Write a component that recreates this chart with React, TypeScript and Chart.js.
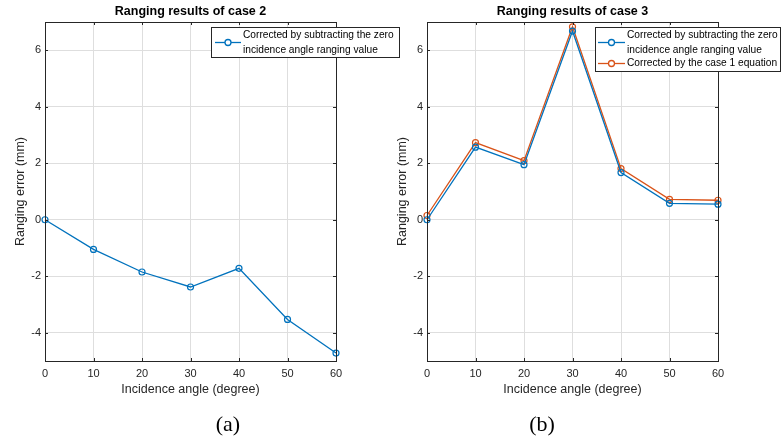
import React, { useEffect, useRef } from "react";
import { Chart, registerables } from "chart.js";

Chart.register(...registerables);

const angles = [0, 10, 20, 30, 40, 50, 60];
const case2Subtract = [0, -1.05, -1.85, -2.38, -1.72, -3.53, -4.72];
const case3Subtract = [0, 2.57, 1.95, 6.68, 1.67, 0.58, 0.55];
const case3Equation = [0.15, 2.73, 2.09, 6.83, 1.81, 0.72, 0.69];
const xTicks = [0, 10, 20, 30, 40, 50, 60];
const yTicks = [-4, -2, 0, 2, 4, 6];
const titles = ["Ranging results of case 2", "Ranging results of case 3"];
const xLabel = "Incidence angle (degree)";
const yLabel = "Ranging error (mm)";
const legendSubtract = ["Corrected by subtracting the zero", "incidence angle ranging value"];
const legendEquation = ["Corrected by the case 1 equation"];
const captions = ["(a)", "(b)"];

const BLUE = "#0072BD";
const ORANGE = "#D95319";
const AXIS = "#262626";
const SANS = "'Liberation Sans', Arial, sans-serif";

type LegendEntry = { color: string; lines: string[]; lineYs: number[]; sampleY: number };
type LegendSpec = { x: number; y: number; w: number; h: number; sampleX0: number; sampleX1: number; textX: number; entries: LegendEntry[] };

function makePlugin(title: string, legend: LegendSpec) {
  return {
    id: "matlabDeco",
    afterDraw(chart: any) {
      const ctx = chart.ctx as CanvasRenderingContext2D;
      const a = chart.chartArea;
      const xs = chart.scales.x;
      const ys = chart.scales.y;
      ctx.save();
      ctx.strokeStyle = AXIS;
      ctx.lineWidth = 1;
      ctx.strokeRect(Math.round(a.left) + 0.5, Math.round(a.top) + 0.5, Math.round(a.right - a.left), Math.round(a.bottom - a.top));
      const tl = 3;
      ctx.beginPath();
      xTicks.forEach((v) => {
        const px = Math.round(xs.getPixelForValue(v)) + 0.5;
        ctx.moveTo(px, a.bottom);
        ctx.lineTo(px, a.bottom - tl);
        ctx.moveTo(px, a.top);
        ctx.lineTo(px, a.top + tl);
      });
      yTicks.forEach((v) => {
        const py = Math.round(ys.getPixelForValue(v)) + 0.5;
        ctx.moveTo(a.left, py);
        ctx.lineTo(a.left + tl, py);
        ctx.moveTo(a.right, py);
        ctx.lineTo(a.right - tl, py);
      });
      ctx.stroke();
      ctx.fillStyle = "#000";
      ctx.font = `bold 12.5px ${SANS}`;
      ctx.textAlign = "center";
      ctx.textBaseline = "middle";
      ctx.fillText(title, (a.left + a.right) / 2, 12);
      ctx.fillStyle = AXIS;
      ctx.font = `12.5px ${SANS}`;
      ctx.fillText(xLabel, (a.left + a.right) / 2, 390);
      ctx.save();
      ctx.translate(a.left - 24, (a.top + a.bottom) / 2);
      ctx.rotate(-Math.PI / 2);
      ctx.fillText(yLabel, 0, 0);
      ctx.restore();
      ctx.fillStyle = "#fff";
      ctx.fillRect(legend.x, legend.y, legend.w, legend.h);
      ctx.strokeStyle = AXIS;
      ctx.strokeRect(legend.x + 0.5, legend.y + 0.5, legend.w, legend.h);
      ctx.font = `10.2px ${SANS}`;
      ctx.textAlign = "left";
      legend.entries.forEach((e) => {
        ctx.strokeStyle = e.color;
        ctx.lineWidth = 1.3;
        ctx.beginPath();
        ctx.moveTo(legend.sampleX0, e.sampleY);
        ctx.lineTo(legend.sampleX1, e.sampleY);
        ctx.stroke();
        ctx.beginPath();
        ctx.arc((legend.sampleX0 + legend.sampleX1) / 2, e.sampleY, 3, 0, Math.PI * 2);
        ctx.fillStyle = "#fff";
        ctx.fill();
        ctx.stroke();
        ctx.fillStyle = "#000";
        e.lines.forEach((t, i) => ctx.fillText(t, legend.textX, e.lineYs[i]));
      });
      ctx.restore();
    },
  };
}

function dataset(label: string, values: number[], color: string) {
  return {
    label,
    data: angles.map((x, i) => ({ x, y: values[i] })),
    borderColor: color,
    backgroundColor: color,
    borderWidth: 1.3,
    pointRadius: 3,
    pointBorderWidth: 1.2,
    pointBackgroundColor: "rgba(255,255,255,0)",
    pointBorderColor: color,
    tension: 0,
    clip: false,
  };
}

function makeConfig(datasets: any[], padLeft: number, padRight: number, plugin: any) {
  return {
    type: "line" as const,
    data: { datasets },
    plugins: [plugin],
    options: {
      animation: false,
      responsive: false,
      devicePixelRatio: 1,
      layout: { padding: { left: padLeft, right: padRight, top: 22, bottom: 0 } },
      plugins: { legend: { display: false }, title: { display: false }, tooltip: { enabled: false } },
      scales: {
        x: {
          type: "linear",
          min: 0,
          max: 60,
          afterBuildTicks: (s: any) => { s.ticks = xTicks.map((v) => ({ value: v })); },
          afterFit: (s: any) => { s.height = 81; },
          grid: { color: "#dedede", drawTicks: false, lineWidth: 1 },
          border: { display: false },
          ticks: { color: AXIS, font: { family: SANS, size: 11 }, padding: 6, maxRotation: 0 },
        },
        y: {
          type: "linear",
          min: -5,
          max: 7,
          afterBuildTicks: (s: any) => { s.ticks = yTicks.map((v) => ({ value: v })); },
          afterFit: (s: any) => { s.width = 45; },
          grid: { color: "#dedede", drawTicks: false, lineWidth: 1 },
          border: { display: false },
          ticks: { color: AXIS, font: { family: SANS, size: 11 }, padding: 4 },
        },
      },
    },
  };
}

export default function App() {
  const refA = useRef<HTMLCanvasElement>(null);
  const refB = useRef<HTMLCanvasElement>(null);

  useEffect(() => {
    const legendA: LegendSpec = {
      x: 211, y: 27, w: 188, h: 30, sampleX0: 215, sampleX1: 241, textX: 243,
      entries: [{ color: BLUE, lines: legendSubtract, lineYs: [35, 50], sampleY: 42.5 }],
    };
    const legendB: LegendSpec = {
      x: 595, y: 27, w: 185, h: 44, sampleX0: 598, sampleX1: 625, textX: 627,
      entries: [
        { color: BLUE, lines: legendSubtract, lineYs: [35, 50], sampleY: 42.5 },
        { color: ORANGE, lines: legendEquation, lineYs: [63.5], sampleY: 63.5 },
      ],
    };
    const chartA = new Chart(
      refA.current!,
      makeConfig([dataset(legendSubtract.join(" "), case2Subtract, BLUE)], 0, 445, makePlugin(titles[0], legendA)) as any
    );
    const chartB = new Chart(
      refB.current!,
      makeConfig(
        [dataset(legendSubtract.join(" "), case3Subtract, BLUE), dataset(legendEquation[0], case3Equation, ORANGE)],
        382,
        63,
        makePlugin(titles[1], legendB)
      ) as any
    );
    return () => {
      chartA.destroy();
      chartB.destroy();
    };
  }, []);

  const canvasStyle: React.CSSProperties = { position: "absolute", left: 0, top: 0, width: 781, height: 442 };
  const capStyle: React.CSSProperties = {
    position: "absolute",
    top: 411,
    width: 60,
    textAlign: "center",
    fontFamily: "'Liberation Serif', 'Times New Roman', serif",
    fontSize: 22,
    lineHeight: "26px",
    color: "#000",
  };

  return (
    <div style={{ position: "fixed", left: 0, top: 0, width: 781, height: 442, background: "#fff", overflow: "hidden" }}>
      <canvas ref={refA} width={781} height={442} style={canvasStyle} />
      <canvas ref={refB} width={781} height={442} style={canvasStyle} />
      <div style={{ ...capStyle, left: 228 - 30 }}>{captions[0]}</div>
      <div style={{ ...capStyle, left: 542 - 30 }}>{captions[1]}</div>
    </div>
  );
}
